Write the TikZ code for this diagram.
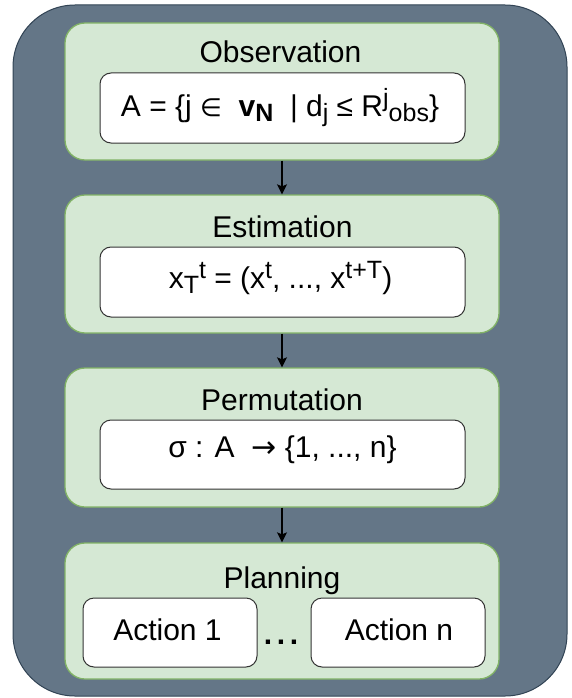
\documentclass[tikz,border=0pt]{standalone}
\usepackage{fontspec}
\setmainfont{Liberation Sans}
\newfontfamily\symf{DejaVu Sans}
\usetikzlibrary{arrows.meta}
\definecolor{slate}{HTML}{647687}
\definecolor{slateline}{HTML}{314354}
\definecolor{greenfill}{HTML}{D5E8D4}
\definecolor{greenline}{HTML}{82B366}
\newcommand{\lo}[1]{\raisebox{-5pt}{\fontsize{25}{25}\selectfont #1}}
\newcommand{\hi}[1]{\raisebox{10pt}{\fontsize{25}{25}\selectfont #1}}
\begin{document}
\begin{tikzpicture}[x=1pt,y=-1pt,
  font=\fontsize{30}{36}\selectfont,
  outerbox/.style={draw=slateline, fill=slate, line width=1pt, rounded corners=62pt, inner sep=0pt},
  stage/.style={draw=greenline, fill=greenfill, line width=1.3pt, rounded corners=20pt, minimum width=434pt, inner sep=0pt},
  formbox/.style={draw=black!80, fill=white, line width=1pt, rounded corners=11pt, minimum width=365pt, inner sep=0pt},
  actbox/.style={draw=black!80, fill=white, line width=1pt, rounded corners=11pt, minimum width=174pt, minimum height=69pt, inner sep=0pt},
  txt/.style={anchor=base, inner sep=0pt},
  flow/.style={-{Stealth[length=10pt,width=10pt,inset=2pt]}, line width=1.3pt, black}]
\useasboundingbox (0,0) rectangle (572,698);
\node[outerbox, minimum width=554pt, minimum height=691pt] (outer) at (290,350.5) {};
% stages
\node[stage, minimum height=137pt] (obs) at (282,91.5) {};
\node[stage, minimum height=138pt] (est) at (282,264) {};
\node[stage, minimum height=139pt] (perm) at (282,437.5) {};
\node[stage, minimum height=136pt] (plan) at (282,611) {};
% inner boxes
\node[formbox, minimum height=70pt] (obsf) at (282.5,108) {};
\node[formbox, minimum height=70pt] (estf) at (282.5,282) {};
\node[formbox, minimum height=69pt] (permf) at (282.5,454.5) {};
\node[actbox] (act1) at (170,632.5) {};
\node[actbox] (actn) at (398,632.5) {};
% titles
\node[txt] (tobs) at (280.5,63) {Observation};
\node[txt] (test) at (282.5,237) {Estimation};
\node[txt] (tperm) at (282,410) {Permutation};
\node[txt] (tplan) at (282,588) {Planning};
% formulas
\node[txt] (fobs) at (280,117) {A = \{j~{\symf\fontsize{25}{25}\selectfont ∈}~~\textbf{v\lo{N}}~~| d\lo{j} ≤ R\hi{j}\lo{obs}\}};
\node[txt] (fest) at (280.5,288) {x\lo{T}\hi{t} = (x\hi{t}, ..., x\hi{t+T})};
\node[txt] (fperm) at (282.5,457) {σ : A~~{\symf →} \{1, ..., n\}};
\node[txt] (tact1) at (167.5,640) {Action 1};
\node[txt] (tactn) at (399,640) {Action n};
\node[txt] (dots) at (281,644) {\textbf{.\hspace{4.7pt}.\hspace{4.7pt}.}};
% connectors
\draw[flow] (obs) -- (est);
\draw[flow] (est) -- (perm);
\draw[flow] (perm) -- (plan);
\end{tikzpicture}
\end{document}
